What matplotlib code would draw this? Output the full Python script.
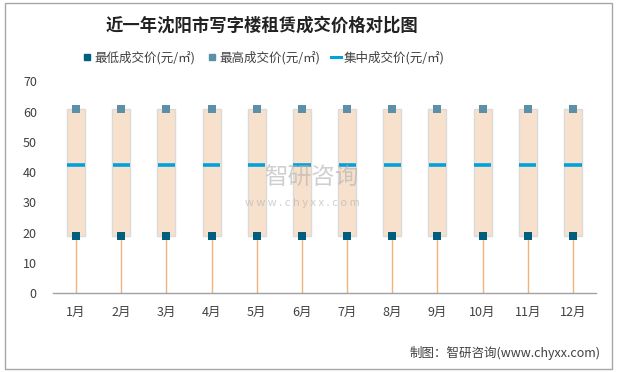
import matplotlib
matplotlib.use("Agg")
import matplotlib.pyplot as plt
from matplotlib.patches import Rectangle
from matplotlib.lines import Line2D
import numpy as np

plt.rcParams['font.family'] = ['Noto Sans CJK SC', 'DejaVu Sans']

# ── data ─────────────────────────────────────────────────────────────────────
months = ["1月", "2月", "3月", "4月", "5月", "6月",
          "7月", "8月", "9月", "10月", "11月", "12月"]
low_price = [19.0] * 12
high_price = [61.0] * 12
mid_price = [42.3] * 12

C_LOW = "#005F7F"
C_HIGH = "#5B90A8"
C_MID = "#00A2DC"
C_BOX = "#F8E1CC"
C_STEM = "#F0B47A"
C_TXT = "#404040"

fig = plt.figure(figsize=(6.17, 3.72), dpi=100)
ax = fig.add_axes([0.0867, 0.2115, 0.8785, 0.5700])

x = np.arange(len(months))
low = np.array(low_price)
high = np.array(high_price)

# stems from 0 up to the low price
ax.vlines(x, 0, low, color=C_STEM, lw=1.0, zorder=1)
# low-high range box
ax.bar(x, high - low, bottom=low, width=0.4, color=C_BOX,
       edgecolor="#DADADA", linewidth=1.0, zorder=2)
# median dash
ax.hlines(mid_price, x - 0.19, x + 0.19, color=C_MID, lw=2.6, zorder=3)
ax.scatter(x, low, marker="s", s=27, color=C_LOW, zorder=4, linewidths=0)
ax.scatter(x, high, marker="s", s=27, color=C_HIGH, zorder=4, linewidths=0)

ax.set_xlim(-0.5, len(months) - 0.5)
ax.set_ylim(0, 70)
ax.set_yticks(range(0, 71, 10))
ax.set_xticks(x)
ax.set_xticklabels(months)
ax.tick_params(axis="both", length=0, labelsize=9, colors=C_TXT)
ax.tick_params(axis="x", pad=9)
ax.tick_params(axis="y", pad=12)
for s in ["top", "right", "left"]:
    ax.spines[s].set_visible(False)
ax.spines["bottom"].set_color("#A0A0A0")
ax.spines["bottom"].set_linewidth(1.0)

# title
fig.text(0.425, 0.930, "近一年沈阳市写字楼租赁成交价格对比图", ha="center", va="center",
         fontsize=12.5, fontweight="bold", color="#222222")

# legend
handles = [
    Line2D([], [], marker="s", ls="none", color=C_LOW, markersize=5),
    Line2D([], [], marker="s", ls="none", color=C_HIGH, markersize=5),
    Line2D([], [], ls="-", color=C_MID, lw=2.2),
]
labels = ["最低成交价(元/㎡)", "最高成交价(元/㎡)", "集中成交价(元/㎡)"]
fig.legend(handles, labels, loc="center", bbox_to_anchor=(0.427, 0.845), ncol=3,
           frameon=False, fontsize=9, handlelength=0.8, handletextpad=0.2,
           columnspacing=0.9, labelcolor=C_TXT)

# watermark
fig.text(0.505, 0.52, "智研咨询", ha="center", va="center", fontsize=17,
         color="#B0B0B0", alpha=0.6)
fig.text(0.49, 0.455, "w w w . c h y x x . c o m", ha="center", va="center",
         fontsize=8, color="#B0B0B0", alpha=0.6)

# source
fig.text(0.973, 0.052, "制图：智研咨询(www.chyxx.com)", ha="right", va="center",
         fontsize=9, color=C_TXT)

# outer border
fig.patches.append(Rectangle((0.008, 0.008), 0.984, 0.984, transform=fig.transFigure,
                             fill=False, edgecolor="#A6A6A6", lw=1.0))

fig.savefig("out.png", dpi=100)
